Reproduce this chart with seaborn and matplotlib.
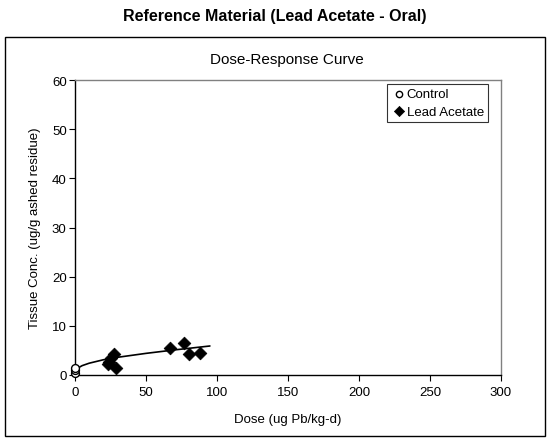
import matplotlib
matplotlib.use("Agg")
import matplotlib.pyplot as plt
import seaborn as sns
import pandas as pd
from matplotlib.patches import Rectangle

sns.set_theme(style="white")
plt.rcParams['font.family'] = ['Liberation Sans', 'DejaVu Sans']
plt.rcParams['text.color'] = 'black'
plt.rcParams['axes.labelcolor'] = 'black'
plt.rcParams['xtick.color'] = 'black'
plt.rcParams['ytick.color'] = 'black'

# Data
control_dose = [0, 0, 0]
control_conc = [0.5, 1.0, 1.5]
lead_dose = [23.5, 24, 25.5, 27.5, 29, 67, 77, 80, 88]
lead_conc = [2.2, 2.6, 3.5, 4.3, 1.4, 5.5, 6.6, 4.3, 4.5]
fit_dose = [0, 2, 5, 10, 20, 30, 50, 70, 95]
fit_conc = [0.8, 1.4, 1.9, 2.4, 3.1, 3.6, 4.4, 5.1, 5.9]
x_ticks = [0, 50, 100, 150, 200, 250, 300]
y_ticks = [0, 10, 20, 30, 40, 50, 60]

fig = plt.figure(figsize=(5.5, 4.39), dpi=100)
fig.patch.set_facecolor("white")
W, H = 550, 439
ax = fig.add_axes([75 / W, 1 - 376 / H, (501 - 75) / W, (376 - 81) / H])

# outer chart border
fig.patches.append(Rectangle((5 / W, 1 - 437 / H), 540 / W, 399 / H,
                             transform=fig.transFigure, fill=False,
                             edgecolor="black", linewidth=1.0))
fig.text(0.5, 1 - 17 / H, "Reference Material (Lead Acetate - Oral)",
         ha="center", va="center", fontsize=11.5, fontweight="bold")
fig.text(287 / W, 1 - 60 / H, "Dose-Response Curve", ha="center",
         va="center", fontsize=11)

fit_df = pd.DataFrame({"dose": fit_dose, "conc": fit_conc})
sns.lineplot(data=fit_df, x="dose", y="conc", ax=ax, color="black",
             linewidth=1.2, sort=True, zorder=2)

ctrl_df = pd.DataFrame({"dose": control_dose, "conc": control_conc})
lead_df = pd.DataFrame({"dose": lead_dose, "conc": lead_conc})
sns.scatterplot(data=ctrl_df, x="dose", y="conc", ax=ax, marker="o",
                facecolor="white", edgecolor="black", linewidth=1.0, s=32,
                label="Control", zorder=4, clip_on=False)
sns.scatterplot(data=lead_df, x="dose", y="conc", ax=ax, marker="D",
                color="black", edgecolor="black", s=42,
                label="Lead Acetate", zorder=3, clip_on=False)

ax.set_xlim(0, 300)
ax.set_ylim(0, 60)
ax.set_xticks(x_ticks)
ax.set_yticks(y_ticks)
ax.tick_params(axis="both", labelsize=9.5, direction="out", length=4,
               width=0.8, color="black", bottom=True, left=True)
ax.tick_params(axis="x", pad=4)
ax.tick_params(axis="y", pad=2)
ax.set_xlabel("Dose (ug Pb/kg-d)", fontsize=9.5, labelpad=11)
ax.set_ylabel("Tissue Conc. (ug/g ashed residue)", fontsize=9.5, labelpad=8)

for s in ["left", "bottom"]:
    ax.spines[s].set_color("black")
    ax.spines[s].set_linewidth(1.0)
for s in ["top", "right"]:
    ax.spines[s].set_color("#808080")
    ax.spines[s].set_linewidth(1.0)
ax.grid(False)

leg = ax.legend(loc="upper right", bbox_to_anchor=(488 / W, 1 - 85 / H),
                bbox_transform=fig.transFigure, fontsize=9.5, frameon=True,
                fancybox=False, edgecolor="black", handletextpad=0.0,
                handlelength=1.2, borderpad=0.3, labelspacing=0.4,
                borderaxespad=0, markerscale=0.8)
leg.get_frame().set_linewidth(0.8)

fig.savefig("out.png", dpi=100, facecolor="white")
